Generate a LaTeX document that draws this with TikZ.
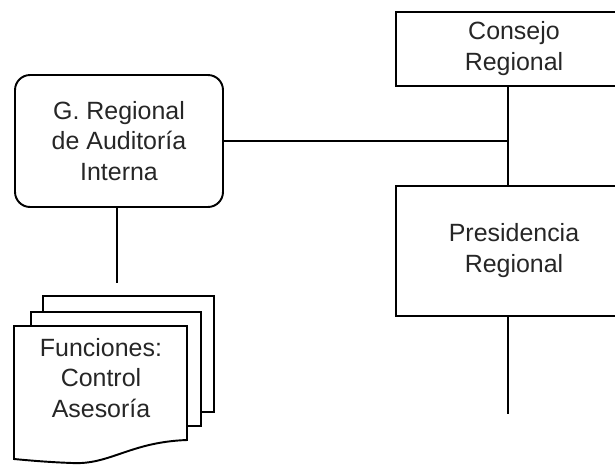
\documentclass[tikz,border=0pt]{standalone}
\usepackage{fontspec}
\setmainfont{Liberation Sans}
\usetikzlibrary{backgrounds}

\begin{document}
\begin{tikzpicture}[x=0.02cm, y=-0.02cm, line width=1.1pt,
      every node/.style={font=\fontsize{14.2}{17.6}\selectfont, align=center,
                  text=black!85, inner sep=0pt},
      org/.style={draw, minimum width=4.72cm},
      gerencia/.style={draw, rounded corners=0.3cm, minimum width=4.16cm,
                  minimum height=2.64cm},
      sheet/.style={draw, fill=white, line width=1.1pt}]

    \useasboundingbox (0,0) rectangle (615,464);
    \clip (0,0) rectangle (615,464);

    % ---- Right column: consejo over presidencia ----
    \node[org, minimum height=1.48cm] (consejo) at (514,49) {Consejo\\Regional};
    \node[org, minimum height=2.6cm] (presid) at (514,251) {Presidencia\\Regional};
    \coordinate (eje) at (508,140);
    \coordinate (fin) at (508,414);

    \draw (consejo.south -| eje) -- (presid.north -| eje);
    \draw (presid.south -| eje) -- (fin);

    % ---- Left column: auditoria + funciones ----
    \node[gerencia] (audit) at (119,141) {G. Regional\\de Auditoría\\Interna};
    \coordinate (baja) at (117,283);
    \node (func) at (101,378) {Funciones:\\Control\\Asesoría};

    \draw (audit.east) -- (audit.east -| eje);
    \draw (audit.south -| baja) -- (baja);

    % stacked sheets behind the text
    \begin{scope}[on background layer]
    \draw[sheet] (43,296) rectangle (214,412);
    \draw[sheet] (31,312) rectangle (201,426);
    \draw[sheet] (14,326) -- (187,326) -- (187,440)
        .. controls (130,442) and (110,465) .. (72,463)
        .. controls (45,462) and (25,460) .. (14,459) -- cycle;
    \end{scope}

\end{tikzpicture}
\end{document}
